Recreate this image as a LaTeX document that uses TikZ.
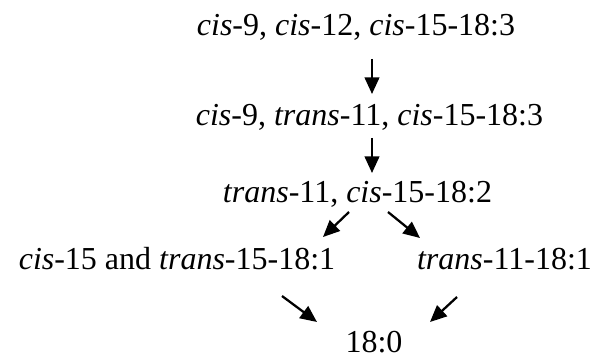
\documentclass[tikz,border=0pt]{standalone}
\usepackage{fontspec}
\setmainfont{Liberation Serif}
\usetikzlibrary{arrows.meta}
\tikzset{
  fa label/.style={
    anchor=base,
    inner sep=0pt,
    font=\fontsize{24}{28}\selectfont,
  },
  fa arrow/.style={-{Triangle[length=12.5pt,width=11pt]}, line width=1.7pt},
}

\begin{document}
\begin{tikzpicture}[x=0.75pt,y=-0.75pt]
  \useasboundingbox (0,0) rectangle (597,360);
  \node[fa label] (ala) at (356,36) {\textit{cis}-9, \textit{cis}-12, \textit{cis}-15-18:3};
  \node[fa label] (cla) at (369.5,126) {\textit{cis}-9, \textit{trans}-11, \textit{cis}-15-18:3};
  \node[fa label] (diene) at (357.5,202) {\textit{trans}-11, \textit{cis}-15-18:2};
  \node[fa label] (mono15) at (177,269) {\textit{cis}-15 and \textit{trans}-15-18:1};
  \node[fa label] (vacc) at (504.5,269) {\textit{trans}-11-18:1};
  \node[fa label] (stear) at (374,352) {18:0};
  % arrow ends
  \coordinate (ala s) at (372,59);   \coordinate (cla n) at (372,94);
  \coordinate (cla s) at (372,138);  \coordinate (diene n) at (372,173);
  \coordinate (diene sw) at (349,212); \coordinate (mono15 ne) at (323,237);
  \coordinate (diene se) at (388,212); \coordinate (vacc nw) at (420,238);
  \coordinate (mono15 se) at (282,296); \coordinate (stear nw) at (317,322);
  \coordinate (vacc sw) at (457,297); \coordinate (stear ne) at (430,322);
  \draw[fa arrow] (ala s) -- (cla n);
  \draw[fa arrow] (cla s) -- (diene n);
  \draw[fa arrow] (diene sw) -- (mono15 ne);
  \draw[fa arrow] (diene se) -- (vacc nw);
  \draw[fa arrow] (mono15 se) -- (stear nw);
  \draw[fa arrow] (vacc sw) -- (stear ne);
\end{tikzpicture}
\end{document}
